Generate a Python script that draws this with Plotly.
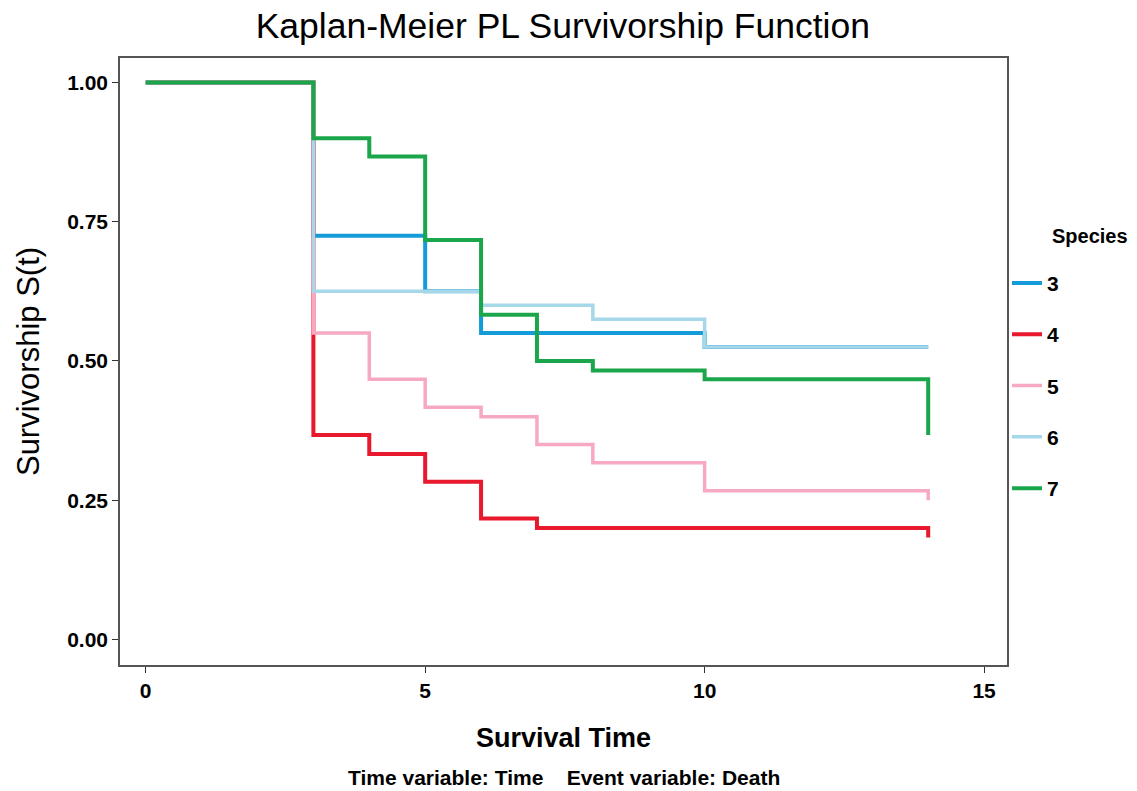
import plotly.graph_objects as go

# Species labels
species = ["3", "4", "5", "6", "7"]
colors = ["#159bd7", "#e8192c", "#f6a9c1", "#a6d8ea", "#1ba64b"]
widths = [4, 4, 3.5, 3.5, 4]

# Kaplan-Meier step data (event times, survivorship)
t3 = [0, 3, 5, 6, 10, 14]
s3 = [1.00, 0.725, 0.625, 0.55, 0.525, 0.525]

t4 = [0, 3, 4, 5, 6, 7, 14]
s4 = [1.00, 0.367, 0.333, 0.283, 0.217, 0.20, 0.183]

t5 = [0, 3, 4, 5, 6, 7, 8, 10, 14]
s5 = [1.00, 0.55, 0.467, 0.417, 0.40, 0.35, 0.317, 0.267, 0.25]

t6 = [0, 3, 6, 8, 10, 14]
s6 = [1.00, 0.625, 0.60, 0.575, 0.525, 0.525]

t7 = [0, 3, 4, 5, 6, 7, 8, 10, 14]
s7 = [1.00, 0.90, 0.867, 0.717, 0.583, 0.50, 0.483, 0.467, 0.367]

x_ticks = [0, 5, 10, 15]
x_ticklabels = ["0", "5", "10", "15"]
y_ticks = [0.00, 0.25, 0.50, 0.75, 1.00]
y_ticklabels = ["0.00", "0.25", "0.50", "0.75", "1.00"]

series = [(t3, s3), (t4, s4), (t5, s5), (t6, s6), (t7, s7)]

FONT = "Liberation Sans, Arial, sans-serif"

fig = go.Figure()
for name, (t, s), c, w in zip(species, series, colors, widths):
    fig.add_trace(go.Scatter(
        x=t, y=s, mode="lines", name="<b>" + name + "</b>",
        line=dict(color=c, width=w, shape="hv"),
        legendgroup=name,
    ))

fig.update_layout(
    width=1137, height=791,
    paper_bgcolor="white", plot_bgcolor="white",
    margin=dict(l=120, r=130, t=58, b=126),
    font=dict(family=FONT, color="black"),
    title=dict(text="Kaplan-Meier PL Survivorship Function",
               x=0.495, xanchor="center", y=0.968, yanchor="middle",
               font=dict(size=35.5, family=FONT, color="black")),
    showlegend=True,
    legend=dict(
        font=dict(size=21, family=FONT),
        x=1.0, xanchor="left", y=0.6626, yanchor="top",
        traceorder="grouped", tracegroupgap=21,
        itemwidth=30,
        bgcolor="rgba(0,0,0,0)",
    ),
    annotations=[
        dict(
            text="<b>Time variable: Time    Event variable: Death</b>",
            xref="paper", yref="paper", x=0.5, y=-0.185, xanchor="center", yanchor="middle",
            showarrow=False, font=dict(size=21, family=FONT, color="black"),
        ),
        dict(
            text="<b>Species</b>",
            xref="paper", yref="paper", x=1.048, y=0.7068, xanchor="left", yanchor="middle",
            showarrow=False, font=dict(size=20, family=FONT, color="black"),
        ),
    ],
)

fig.update_xaxes(
    range=[-0.46, 15.41], tickvals=x_ticks,
    ticktext=["<b>" + s + "</b>" for s in x_ticklabels],
    showgrid=False, zeroline=False,
    showline=True, linecolor="#555555", linewidth=1.5, mirror=True,
    ticks="outside", ticklen=6, tickcolor="#333333",
    tickfont=dict(size=21, family=FONT),
    title=dict(text="<b>Survival Time</b>", font=dict(size=27, family=FONT), standoff=27),
)
fig.update_yaxes(
    range=[-0.046, 1.044], tickvals=y_ticks,
    ticktext=["<b>" + s + "</b>" for s in y_ticklabels],
    showgrid=False, zeroline=False,
    showline=True, linecolor="#555555", linewidth=1.5, mirror=True,
    ticks="outside", ticklen=6, tickcolor="#333333",
    tickfont=dict(size=21, family=FONT),
    title=dict(text="Survivorship S(t)", font=dict(size=31, family=FONT), standoff=18),
)

fig.write_html(
    "out.html",
    config={"displayModeBar": False},
    post_script="document.body.style.margin='0';document.body.style.padding='0';",
)
